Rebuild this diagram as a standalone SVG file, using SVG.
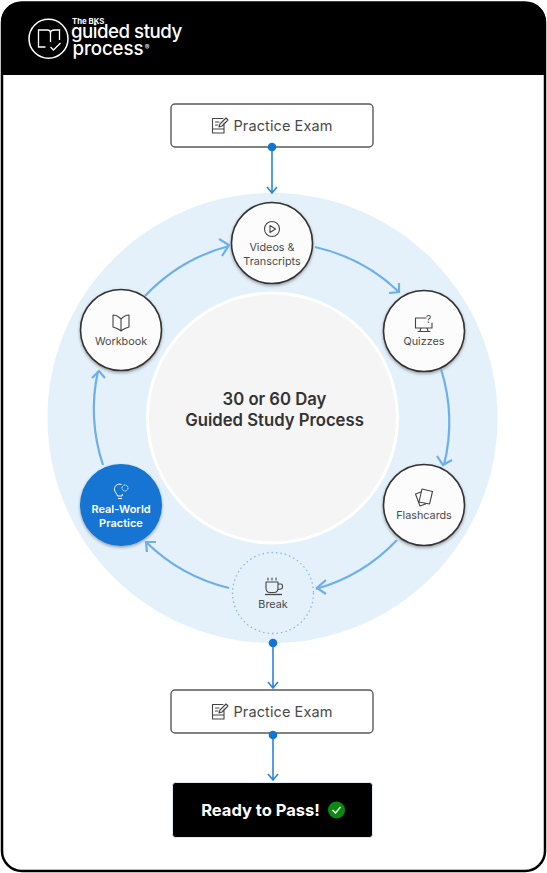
<svg xmlns="http://www.w3.org/2000/svg" width="547" height="873" viewBox="0 0 547 873">
<style>
text{font-family:Inter,"Liberation Sans",sans-serif;text-anchor:middle}
.lbl{font-size:10.800px;fill:#4a4a4a}
.pe{font-size:14.500px;fill:#4a4a4a;letter-spacing:.1px}
.node{fill:#fcfcfc;stroke:#333;stroke-width:1.6;filter:url(#sh)}
.box{fill:#fff;stroke:#5a5a5a;stroke-width:1.4}
.ic{fill:none;stroke:#444;stroke-width:1.1;stroke-linejoin:round;stroke-linecap:round}
.arc{fill:none;stroke:#6cb0ea;stroke-width:2.2}
.ah{fill:none;stroke:#6cb0ea;stroke-width:2.2}
.flow{fill:none;stroke:#2a86dc;stroke-width:1.6}
.dot{fill:#1275d3}
</style>
<defs>
<filter id="sh" x="-20%" y="-20%" width="140%" height="140%"><feDropShadow dx="0" dy="1.5" stdDeviation="1.5" flood-color="#000" flood-opacity=".35"/></filter>
</defs>
<rect width="547" height="873" fill="#fff"/>
<g id="frame">
<rect x="2" y="2.500" width="543" height="868.500" rx="20" fill="#fff" stroke="#000" stroke-width="2.500"/>
<path d="M1 75V22A20 20 0 0 1 21 2H526A20 20 0 0 1 546 22V75Z" fill="#000"/>
</g>
<g id="logo">
<circle cx="48.500" cy="38.700" r="19.500" fill="none" stroke="#fff" stroke-width="1.500"/>
<path d="M45.500 47H38.500V30H47.500C49.500 30 50.500 31 50.500 33V42M50.500 33C50.500 31 52.500 30 54.500 30H59.500V40M50.500 47L53.500 50L60.500 43" fill="none" stroke="#fff" stroke-width="1.300"/>
<text x="72" y="23.500" style="text-anchor:start;font-size:7.800px;font-weight:700;fill:#fff">The BKS</text>
<text x="71" y="38" style="text-anchor:start;font-size:18.700px;font-weight:500;fill:#fff;letter-spacing:-.5px">guided study</text>
<text x="72.500" y="55" style="text-anchor:start;font-size:18.700px;font-weight:500;fill:#fff;letter-spacing:-.1px">process</text>
<text x="147" y="49.500" style="font-size:7px;fill:#fff">®</text>
</g>
<g id="background">
<circle cx="272.500" cy="418" r="225" fill="#e4f0fa"/>
</g>
<g id="hub">
<circle cx="272.500" cy="418" r="125" fill="#f5f5f5" stroke="#fff" stroke-width="3"/>
<text x="274.500" y="405" style="font-size:16.700px;font-weight:600;fill:#333">30 or 60 Day</text>
<text x="274.500" y="426" style="font-size:16.700px;font-weight:600;fill:#333">Guided Study Process</text>
</g>
<g id="exam-top">
<rect class="box" x="171" y="104" width="202" height="43" rx="4"/>
<path class="ic" d="M224 123V133H212.500V118.500H223M212.500 129H224M215.500 122H219M215.500 125H218M219 127L220 124L226 118L228 120L222 126Z"/>
<text class="pe" x="283" y="131">Practice Exam</text>
</g>
<g id="videos">
<circle class="node" cx="272" cy="243" r="40.500"/>
<circle class="ic" cx="272" cy="229" r="7.500"/><path class="ic" d="M270 225.500V232.500L275.500 229Z"/>
<text class="lbl" x="272" y="251">Videos &amp;</text>
<text class="lbl" x="272" y="265">Transcripts</text>
</g>
<g id="quizzes">
<circle class="node" cx="424" cy="331" r="40.500"/>
<path class="ic" d="M426 318H415.500V328H432V323M421 328L420 331M427 328L428 331M418 331.500H430"/>
<text x="428.500" y="323" style="font-size:10px;fill:#444">?</text>
<text class="lbl" x="424" y="345">Quizzes</text>
</g>
<g id="flashcards">
<circle class="node" cx="424" cy="505" r="40.500"/>
<path class="ic" d="M421 492L415.500 494L420 506L425.500 504M422 489L432.500 491.500L429.500 504L419 502Z"/>
<text class="lbl" x="424" y="519">Flashcards</text>
</g>
<g id="break">
<circle cx="273" cy="593" r="40.500" fill="none" stroke="#82bcee" stroke-width="1.300" stroke-dasharray="1.500 3"/>
<path class="ic" d="M266 582H278V588C278 591 276 592.500 274 592.500H270C268 592.500 266 591 266 588ZM278 584H281C283 584 283 589 281 589L278 589.500M268 580V578M272 580V578M276 580V578"/>
<path d="M265 594.500H282" stroke="#444" stroke-width="1.300"/>
<text class="lbl" x="273" y="608">Break</text>
</g>
<g id="real-world">
<circle cx="121" cy="505" r="41" fill="#1275d3" filter="url(#sh)"/>
<path d="M121.500 484.500C117 483 114 486.500 114.500 490C115 492.500 117 493.500 117.500 496H122L122.500 494M118 498.500H122" fill="none" stroke="#fff" stroke-width="1"/>
<circle cx="125" cy="488" r="3" fill="none" stroke="#fff" stroke-width="1" stroke-dasharray="1.200 .6"/>
<text x="121" y="513" style="font-size:11px;font-weight:600;fill:#fff">Real-World</text>
<text x="121" y="527" style="font-size:11px;font-weight:600;fill:#fff">Practice</text>
</g>
<g id="workbook">
<circle class="node" cx="121" cy="330" r="40.500"/>
<path class="ic" d="M121 319C118 316 116 315 113 315V327C116 328 119 329 121 331C123 329 126 328 129 327V315C126 315 124 316 121 319ZM121 319V331"/>
<text class="lbl" x="121" y="345">Workbook</text>
</g>
<g id="exam-bottom">
<rect class="box" x="171" y="690" width="202" height="43" rx="4"/>
<path class="ic" d="M224 709V719H212.500V704.500H223M212.500 715H224M215.500 708H219M215.500 711H218M219 713L220 710L226 704L228 706L222 712Z"/>
<text class="pe" x="283" y="717">Practice Exam</text>
</g>
<g id="ready">
<rect x="172.500" y="782.500" width="200" height="55" rx="3" fill="#000" stroke="#e6ecf7"/>
<text x="260.500" y="816" style="font-size:16.500px;font-weight:700;fill:#fff">Ready to Pass!</text>
<circle cx="336.500" cy="810" r="8.500" fill="#0b8a12"/>
<path d="M332.500 810L335.500 813L340.500 807" fill="none" stroke="#fff" stroke-width="1.300"/>
</g>
<g id="connectors">
<path class="arc" d="M145 296A178 178 0 0 1 229 246"/>
<path class="ah" d="M219 239L229 245L222 256"/>
<path class="arc" d="M315 247A178 178 0 0 1 399 292"/>
<path class="ah" d="M389 293L399 292L399 283"/>
<path class="arc" d="M441 369A178 178 0 0 1 444 465"/>
<path class="ah" d="M437 456L443 465L452 460"/>
<path class="arc" d="M397 540A178 178 0 0 1 316 589"/>
<path class="ah" d="M326 580L317 588L326 594"/>
<path class="arc" d="M229 588A178 178 0 0 1 146 542"/>
<path class="ah" d="M156 542L146 542L147 552"/>
<path class="arc" d="M103 465A178 178 0 0 1 98 371"/>
<path class="ah" d="M92 378L99 371L105 378"/>
<path class="flow" d="M272 147V193M267 187L272 193L277 187"/>
<circle class="dot" cx="272" cy="147" r="4.300"/>
<path class="flow" d="M273 643V688M268 682L273 688L278 682"/>
<circle class="dot" cx="273" cy="643" r="4.300"/>
<path class="flow" d="M273 735V780M268 774L273 780L278 774"/>
<circle class="dot" cx="273" cy="735" r="4.300"/>
</g>
</svg>
